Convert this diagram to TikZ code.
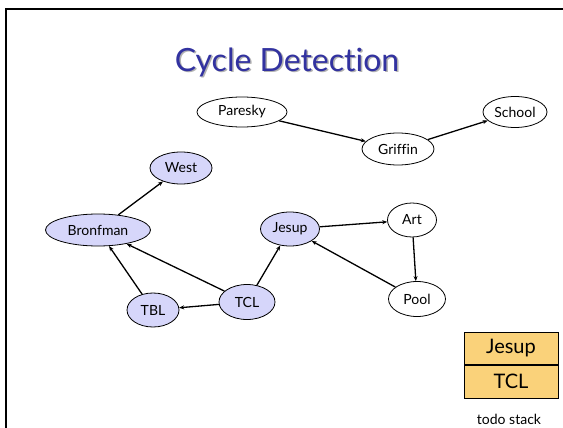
\documentclass[tikz,border=0pt]{standalone}
\usepackage{fontspec}
\setmainfont{Lato}[Ligatures=NoCommon]
\usetikzlibrary{shapes.geometric,arrows.meta}
\definecolor{lav}{RGB}{214,214,250}
\definecolor{stackfill}{RGB}{250,210,122}
\definecolor{titleblue}{RGB}{50,50,160}
\tikzset{
  place/.style={ellipse,draw,line width=0.8pt,inner sep=0pt,font=\fontsize{14}{16}\selectfont},
  visited/.style={place,fill=lav},
  edge/.style={line width=1.3pt,-{Stealth[length=5pt,width=4pt]}},
  stackcell/.style={draw,line width=0.8pt,fill=stackfill,minimum width=94pt,minimum height=32.5pt,inner sep=0pt,font=\fontsize{20}{22}\selectfont}
}
\begin{document}
\begin{tikzpicture}[x=1pt,y=-1pt]
\useasboundingbox (0,0) rectangle (563,428);
\draw[line width=2pt] (6,428) -- (6,9) -- (563,9);
\node[text=titleblue,font=\fontsize{32}{36}\selectfont] (title) at (287,63)
  {\makebox[0pt][l]{\hspace{1.5pt}\raisebox{-1.5pt}{\textcolor{black!30}{Cycle Detection}}}Cycle Detection};
\node[place,minimum width=90pt,minimum height=30pt] (paresky) at (242,112) {Paresky};
\node[place,minimum width=72pt,minimum height=32pt] (griffin) at (398,149) {Griffin};
\node[place,minimum width=64pt,minimum height=31pt] (school) at (515,112) {School};
\node[visited,minimum width=62pt,minimum height=32pt] (west) at (181,168) {West};
\node[visited,minimum width=105pt,minimum height=32pt] (bronfman) at (98,230) {Bronfman};
\node[visited,minimum width=59pt,minimum height=34pt] (jesup) at (290,229) {Jesup};
\node[place,minimum width=49pt,minimum height=34pt] (art) at (412,220) {Art};
\node[place,minimum width=57pt,minimum height=35pt] (pool) at (417,299) {Pool};
\node[visited,minimum width=52pt,minimum height=34pt] (tbl) at (153,310) {TBL};
\node[visited,minimum width=56pt,minimum height=35pt] (tcl) at (247,302) {TCL};
\draw[edge] (paresky) -- (griffin);
\draw[edge] (griffin) -- (school);
\draw[edge] (bronfman) -- (west);
\draw[edge] (tbl) -- (bronfman);
\draw[edge] (tcl) -- (bronfman);
\draw[edge] (tcl) -- (tbl);
\draw[edge] (tcl) -- (jesup);
\draw[edge] (jesup) -- (art);
\draw[edge] (art) -- (pool);
\draw[edge] (pool) -- (jesup);
\node[stackcell] (stacktop) at (511,348.5) {Jesup};
\node[stackcell,anchor=north] (stackbottom) at (stacktop.south) {TCL};
\node[font=\fontsize{14}{16}\selectfont] (stacklabel) at (509,419) {todo stack};
\end{tikzpicture}
\end{document}
